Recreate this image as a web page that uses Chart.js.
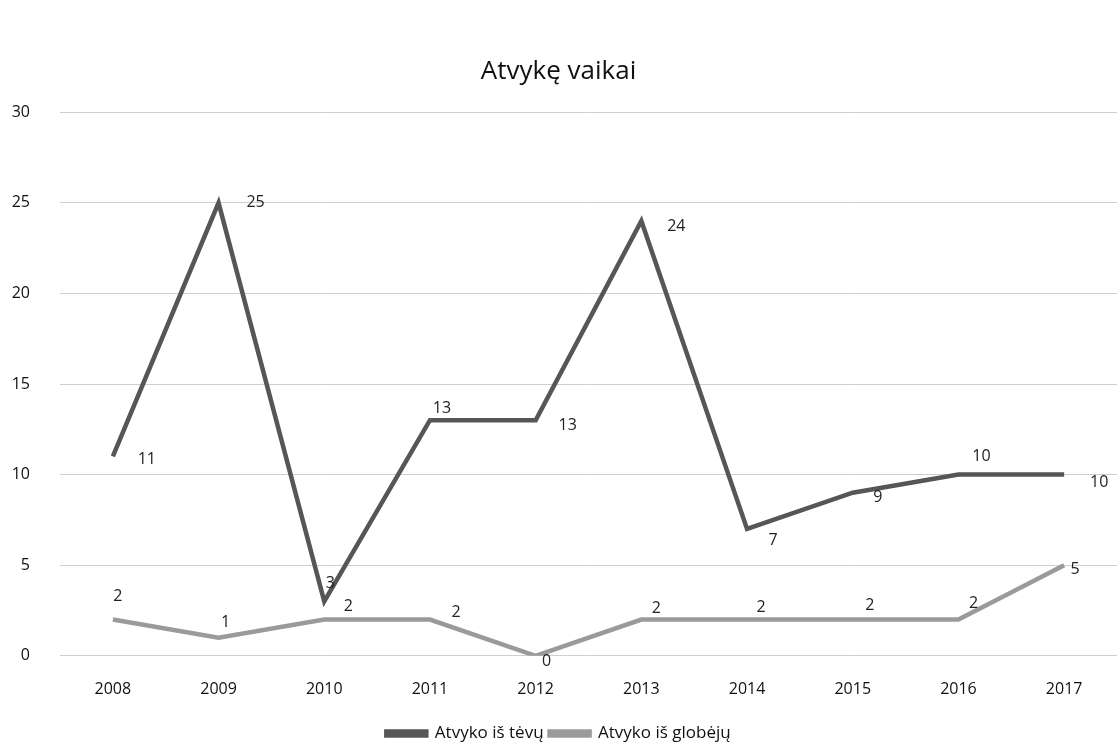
<!DOCTYPE html>
<html>
<head>
<meta charset="utf-8">
<script src="https://cdn.jsdelivr.net/npm/chart.js@4.4.1/dist/chart.umd.min.js"></script>
<style>
html,body{margin:0;padding:0;background:#fff;}
#wrap{width:1117px;height:749px;position:relative;}
</style>
</head>
<body>
<div id="wrap"><canvas id="c" width="1117" height="749"></canvas></div>
<script>
const years = ["2008","2009","2010","2011","2012","2013","2014","2015","2016","2017"];
const fromParents = [11,25,3,13,13,24,7,9,10,10];
const fromGuardians = [2,1,2,2,0,2,2,2,2,5];
const seriesNames = ["Atvyko iš tėvų","Atvyko iš globėjų"];
const chartTitle = "Atvykę vaikai";
const yTicks = [0,5,10,15,20,25,30];

// label offsets (style only)
const labelOffsets = [
  [[34,3],[37,0],[6,-18],[12,-12],[32,5],[35,6],[26,11],[25,5],[23,-18],[35,8]],
  [[5,-23],[7,-15],[24,-13],[26,-7],[11,6],[15,-11],[14,-12],[17,-14],[15,-16],[11,4]]
];

const FONT = '"Open Sans", "DejaVu Sans", sans-serif';

const labelPlugin = {
  id:'pointLabels',
  afterDatasetsDraw(chart){
    const ctx = chart.ctx;
    ctx.save();
    ctx.font = '16px ' + FONT;
    ctx.fillStyle = '#222';
    ctx.textAlign = 'center';
    ctx.textBaseline = 'middle';
    chart.data.datasets.forEach((ds, di) => {
      const meta = chart.getDatasetMeta(di);
      meta.data.forEach((pt, i) => {
        const o = labelOffsets[di][i];
        ctx.fillText(String(ds.data[i]), pt.x + o[0], pt.y + o[1]);
      });
    });
    ctx.restore();
  }
};

new Chart(document.getElementById('c'), {
  type:'line',
  data:{
    labels: years,
    datasets:[
      {label: seriesNames[0], data: fromParents, borderColor:'#565656', backgroundColor:'#565656', borderWidth:4.5, pointRadius:0, tension:0},
      {label: seriesNames[1], data: fromGuardians, borderColor:'#9a9a9a', backgroundColor:'#9a9a9a', borderWidth:4.5, pointRadius:0, tension:0}
    ]
  },
  options:{
    responsive:false,
    animation:false,
    layout:{padding:{left:0,right:0,top:44,bottom:-3}},
    plugins:{
      title:{display:true, text: chartTitle, color:'#111',
        font:{family:FONT, size:26, weight:'normal'},
        padding:{top:12,bottom:25}},
      legend:{position:'bottom',
        labels:{color:'#111', boxWidth:40, boxHeight:4, padding:6,
          font:{family:FONT, size:17}}},
      tooltip:{enabled:false}
    },
    scales:{
      x:{
        offset:true,
        afterFit(s){ s.height = s.height - 4; },
        grid:{display:false, drawTicks:false},
        border:{display:false},
        ticks:{color:'#111', padding:24, font:{family:FONT, size:16}}
      },
      y:{
        min:0, max:30,
        afterBuildTicks(s){ s.ticks = yTicks.map(v=>({value:v})); },
        afterFit(s){ s.width = 60; },
        grid:{color:'#cfcfcf', lineWidth:1, drawTicks:false},
        border:{display:false},
        ticks:{color:'#111', padding:30, stepSize:5, align:'center',
          font:{family:FONT, size:16}}
      }
    }
  },
  plugins:[labelPlugin]
});
</script>
</body>
</html>
